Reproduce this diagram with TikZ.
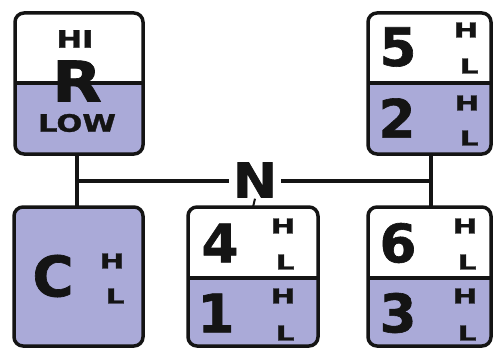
\documentclass[tikz,border=0pt]{standalone}
\usepackage{fontspec}
\usepackage{graphicx}
\setmainfont{DejaVu Sans}
\newfontfamily\heavyfont{DejaVu Sans Bold}[FakeBold=1.2]
\definecolor{lav}{RGB}{170,170,216}
\definecolor{ink}{RGB}{20,20,20}
\newcommand{\wider}[2]{\scalebox{#1}[1]{#2}}
\tikzset{
  x=1pt, y=-1pt,
  line/.style={draw=ink, line width=3.5pt},
  frame/.style={draw=ink, line width=3.5pt, rounded corners=9pt},
  big/.style={font=\fontsize{53}{53}\selectfont\heavyfont, text=ink, inner sep=0pt},
  small/.style={font=\fontsize{20.5}{20.5}\selectfont\heavyfont, text=ink, inner sep=0pt},
  word/.style={font=\fontsize{24}{24}\selectfont\heavyfont, text=ink, inner sep=0pt},
}
\newcommand{\HL}[5]{%
  \node[small] (#1h) at (#2,#3) {\wider{1.45}{H}};
  \node[small] (#1l) at (#4,#5) {\wider{1.45}{L}};}
\begin{document}
\begin{tikzpicture}
\useasboundingbox (0,0) rectangle (494,350);
% connectors
\coordinate (jl) at (77,181);
\coordinate (jr) at (431,181);
\coordinate (nt) at (253,207);
\draw[line] (77,154) -- (jl) -- (jr) -- (431,154);
\draw[line] (jl) -- (77,207);
\draw[line] (jr) -- (431,207);
\node[big, fill=white, inner xsep=4pt, inner ysep=1pt, font=\fontsize{48}{48}\selectfont\heavyfont] (N) at (255,180) {\wider{1.1}{N}};
\draw[ink, line width=2pt] (N.south) -- (nt);
% box R
\fill[lav, rounded corners=9pt] (15,83) -- (15,154) -- (143,154) -- (143,83) -- cycle;
\fill[lav] (15,83) rectangle (143,95);
\draw[frame] (15,13) rectangle (143,154);
\draw[line] (15,83) -- (143,83);
\node[word] (hi) at (75,39) {\wider{1.27}{HI}};
\node[big, font=\fontsize{56}{56}\selectfont\heavyfont] (R) at (77,81) {\wider{1.15}{R}};
\node[word] (low) at (77,123) {\wider{1.27}{LOW}};
% box 5/2
\fill[lav, rounded corners=9pt] (368,83) -- (368,154) -- (491,154) -- (491,83) -- cycle;
\fill[lav] (368,83) rectangle (491,95);
\draw[frame] (368,13) rectangle (491,154);
\draw[line] (368,83) -- (491,83);
\node[big] (g5) at (398,47) {5};
\HL{a}{466}{30}{469}{66}
\node[big] (g2) at (397,118) {2};
\HL{b}{467}{103}{469}{138}
% box C
\fill[lav, rounded corners=9pt] (14,207) rectangle (143,346);
\draw[frame] (14,207) rectangle (143,346);
\node[big, font=\fontsize{56}{56}\selectfont\heavyfont] (gc) at (53,276) {C};
\HL{c}{112}{261}{115}{296}
% box 4/1
\fill[lav, rounded corners=9pt] (188,278) -- (188,346) -- (318,346) -- (318,278) -- cycle;
\fill[lav] (188,278) rectangle (318,290);
\draw[frame] (188,207) rectangle (318,346);
\draw[line] (188,278) -- (318,278);
\node[big] (g4) at (220,243) {4};
\HL{d}{283}{226}{285}{262}
\node[big] (g1) at (216,313) {1};
\HL{e}{283}{296}{285}{333}
% box 6/3
\fill[lav, rounded corners=9pt] (368,278) -- (368,346) -- (491,346) -- (491,278) -- cycle;
\fill[lav] (368,278) rectangle (491,290);
\draw[frame] (368,207) rectangle (491,346);
\draw[line] (368,278) -- (491,278);
\node[big] (g6) at (398,243) {6};
\HL{f}{465}{226}{467}{262}
\node[big] (g3) at (398,313) {3};
\HL{g}{465}{296}{467}{333}
\end{tikzpicture}
\end{document}
